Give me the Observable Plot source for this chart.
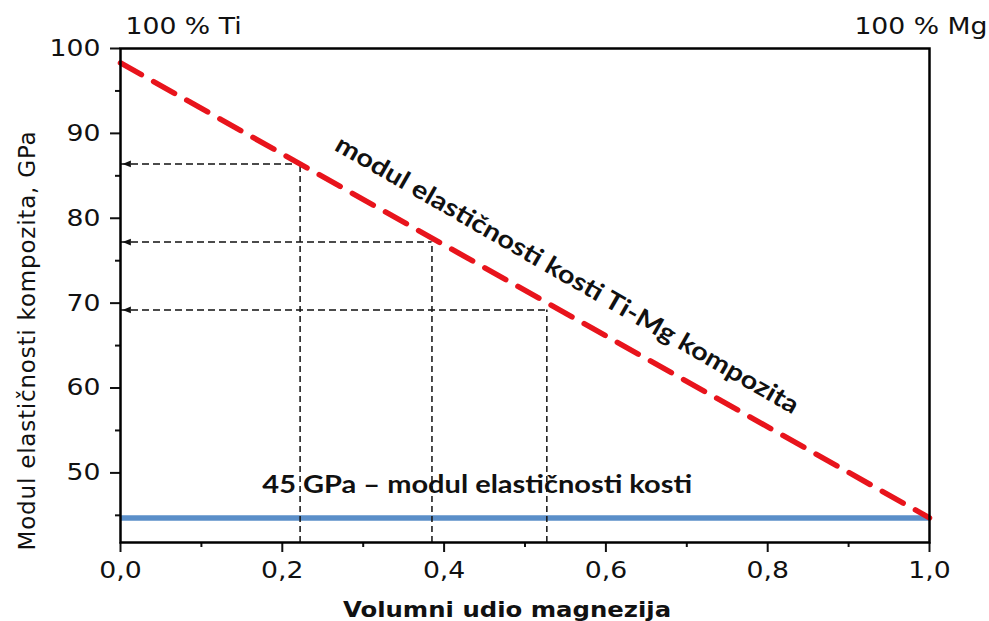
<!DOCTYPE html>
<html>
<head>
<meta charset="utf-8">
<script src="https://cdn.jsdelivr.net/npm/d3@7"></script>
<script src="https://cdn.jsdelivr.net/npm/@observablehq/plot@0.6"></script>
<style>
  html, body { margin: 0; padding: 0; background: #fff; }
  #chart { position: absolute; left: 0; top: 0; }
</style>
</head>
<body>
<div id="chart"></div>
<script>
// ---- data ----
const xMajor = [0, 0.2, 0.4, 0.6, 0.8, 1.0];
const xMinor = [0.1, 0.3, 0.5, 0.7, 0.9];
const yMajor = [50, 60, 70, 80, 90, 100];
const yMinor = [45, 55, 65, 75, 85, 95];
const yDomain = [41.8, 100];
const xDomain = [0, 1];
const compositeX = [0, 1];
const compositeY = [98.3, 44.7];
const boneModulus = 44.7;
const guideX = [0.222, 0.385, 0.527];
const guideY = [86.4, 77.2, 69.2];
const topLeftLabel = "100 % Ti";
const topRightLabel = "100 % Mg";
const xTitle = "Volumni udio magnezija";
const yTitle = "Modul elastičnosti kompozita, GPa";
const boneLabel = "45 GPa – modul elastičnosti kosti";
const boneLabelPos = {x: 0.441, y: 48.6};
const compositeLabel = "modul elastičnosti kosti Ti-Mg kompozita";
const compositeLabelPos = {x: 0.552, y: 73.3};

// ---- derived tables ----
const composite = compositeX.map((x, i) => ({x, y: compositeY[i]}));
const bone = [{x1: xDomain[0], x2: xDomain[1], y: boneModulus}];
const guides = guideX.map((x, i) => ({x, y: guideY[i]}));
const fmt = d => d.toFixed(1).replace(".", ",");

const red = "#e8141c";
const blue = "#5b8fc9";
const annFont = "Lato";

// left-pointing filled arrowhead, tip at the point
const arrowHead = {
  draw(ctx, size) {
    const r = Math.sqrt(size / Math.PI);
    ctx.moveTo(0, 0);
    ctx.lineTo(2 * r, -0.8 * r);
    ctx.lineTo(2 * r, 0.8 * r);
    ctx.closePath();
  }
};

const chart = Plot.plot({
  width: 989,
  height: 621,
  marginLeft: 120,
  marginRight: 60,
  marginTop: 48,
  marginBottom: 79,
  x: {domain: xDomain},
  y: {domain: yDomain},
  style: {fontFamily: "DejaVu Sans", fontSize: "23px", color: "#111", background: "#fff"},
  marks: [
    Plot.axisY(yMajor, {tickSize: 10, tickPadding: 10, strokeWidth: 2, label: null, fontSize: 23}),
    Plot.axisY(yMinor, {tickSize: 5, strokeWidth: 2, text: null, label: null}),
    Plot.axisX(xMajor, {tickSize: 10, tickPadding: 9, strokeWidth: 2, label: null, tickFormat: fmt, fontSize: 23}),
    Plot.axisX(xMinor, {tickSize: 5, strokeWidth: 2, text: null, label: null}),
    Plot.ruleY(bone, {y: "y", x1: "x1", x2: "x2", stroke: blue, strokeWidth: 5.5}),
    Plot.ruleX(guides, {x: "x", y1: yDomain[0], y2: "y", stroke: "#111", strokeWidth: 1.5, strokeDasharray: "6,4"}),
    Plot.ruleY(guides, {y: "y", x1: xDomain[0], x2: "x", stroke: "#111", strokeWidth: 1.5, strokeDasharray: "7,4"}),
    Plot.dot(guides, {x: () => xDomain[0], y: "y", symbol: arrowHead, r: 4.2, fill: "#111", stroke: "none", dx: 2}),
    Plot.line(composite, {x: "x", y: "y", stroke: red, strokeWidth: 5.5, strokeDasharray: "24,14"}),
    Plot.frame({stroke: "#000", strokeWidth: 2.5}),
    Plot.text([boneLabel], {x: boneLabelPos.x, y: boneLabelPos.y, text: d => d, fontFamily: annFont, fontWeight: "bold", fontSize: 25, fill: "#111"}),
    Plot.text([compositeLabel], {x: compositeLabelPos.x, y: compositeLabelPos.y, text: d => d, rotate: 30, fontFamily: annFont, fontWeight: "bold", fontSize: 25, fill: "#111"}),
    Plot.text([topLeftLabel], {frameAnchor: "top-left", text: d => d, textAnchor: "start", lineAnchor: "middle", dx: 5, dy: -22, fontSize: 23, fill: "#111"}),
    Plot.text([topRightLabel], {frameAnchor: "top-right", text: d => d, textAnchor: "end", lineAnchor: "middle", dx: 58, dy: -22, fontSize: 23, fill: "#111"}),
    Plot.text([yTitle], {frameAnchor: "left", text: d => d, textAnchor: "middle", lineAnchor: "middle", rotate: -90, dx: -93, dy: 45, fontSize: 23, fill: "#111"}),
    Plot.text([xTitle], {frameAnchor: "bottom", text: d => d, textAnchor: "middle", lineAnchor: "middle", dx: -18, dy: 68, fontSize: 21, fontWeight: "bold", fill: "#111"})
  ]
});

// the original lettering is horizontally wide: stretch glyphs about their anchor
const stretch = 1.16;
d3.select(chart).selectAll("text").each(function () {
  const t = this.textContent;
  if (t === yTitle) {
    this.setAttribute("letter-spacing", "0.8px");
    return;
  }
  const tr = this.getAttribute("transform");
  if (tr) {
    this.setAttribute("transform", tr + ` scale(${stretch},1)`);
  } else {
    const x = +(this.getAttribute("x") || 0);
    this.setAttribute("transform", `translate(${x},0) scale(${stretch},1) translate(${-x},0)`);
  }
});
document.getElementById("chart").appendChild(chart);
</script>
</body>
</html>
